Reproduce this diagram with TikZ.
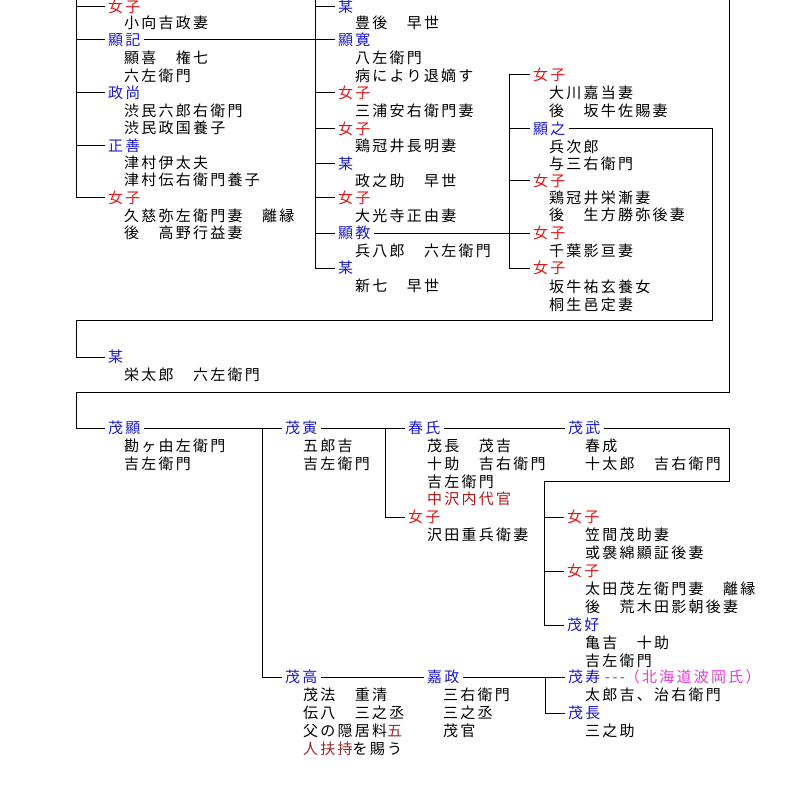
\documentclass[tikz,border=0pt]{standalone}
\usepackage{fontspec}
\newfontfamily\jp{Noto Sans CJK JP}[LetterSpace=15]
\newcommand\jpf{\jp\fontsize{15pt}{18pt}\selectfont}
\definecolor{namec}{RGB}{25,25,200}
\definecolor{femc}{RGB}{220,25,25}
\definecolor{darkredc}{RGB}{175,25,25}
\definecolor{brownc}{RGB}{155,40,40}
\definecolor{magc}{RGB}{225,60,215}
\definecolor{dashc}{RGB}{90,90,90}
\tikzset{
  lab/.style={anchor=west, inner xsep=3pt, inner ysep=1pt, font=\jpf, text=namec},
  fem/.style={lab, text=femc},
  sub/.style={anchor=west, inner sep=0pt, font=\jpf, text=black},
  link/.style={draw=black, line width=1pt}
}
\begin{document}
\begin{tikzpicture}[x=1pt,y=-1pt]
\clip (0,0) rectangle (794,802);
\fill[white] (0,0) rectangle (794,802);
% named corner coordinates
\coordinate (ltop) at (76,0);
\coordinate (mtop) at (315,0);
\coordinate (rx) at (509,0);
\coordinate (k1) at (712,320);
\coordinate (otop) at (729,0);
\coordinate (o2) at (729,392);
\coordinate (v1) at (262,428);
\coordinate (v2) at (385,428);
\coordinate (k2) at (729,481);
\coordinate (v3x) at (544,0);
\coordinate (v4) at (545,677);

% ---- left column
\node[fem] (L1) at (105,7) {女子};
\node[sub] (l1a) at (124,23) {小向吉政妻};
\node[lab] (L2) at (105,40) {顯記};
\node[sub] (l2a) at (124,58) {顯喜　権七};
\node[sub] (l2b) at (124,76) {六左衛門};
\node[lab] (L3) at (105,93) {政尚};
\node[sub] (l3a) at (124,111) {渋民六郎右衛門};
\node[sub] (l3b) at (124,128) {渋民政国養子};
\node[lab] (L4) at (105,146) {正善};
\node[sub] (l4a) at (124,163) {津村伊太夫};
\node[sub] (l4b) at (124,180) {津村伝右衛門養子};
\node[fem] (L5) at (105,198) {女子};
\node[sub] (l5a) at (124,216) {久慈弥左衛門妻　離縁};
\node[sub] (l5b) at (124,233) {後　高野行益妻};

% ---- middle column
\node[lab] (M1) at (335,7) {某};
\node[sub] (m1a) at (355,23) {豊後　早世};
\node[lab] (M2) at (335,40) {顯寛};
\node[sub] (m2a) at (355,58) {八左衛門};
\node[sub] (m2b) at (355,76) {病により退嫡す};
\node[fem] (M3) at (335,93) {女子};
\node[sub] (m3a) at (355,111) {三浦安右衛門妻};
\node[fem] (M4) at (335,129) {女子};
\node[sub] (m4a) at (355,146) {鶏冠井長明妻};
\node[lab] (M5) at (335,164) {某};
\node[sub] (m5a) at (355,181) {政之助　早世};
\node[fem] (M6) at (335,198) {女子};
\node[sub] (m6a) at (355,216) {大光寺正由妻};
\node[lab] (M7) at (335,233) {顯教};
\node[sub] (m7a) at (355,251) {兵八郎　六左衛門};
\node[lab] (M8) at (335,268) {某};
\node[sub] (m8a) at (355,286) {新七　早世};

% ---- right column
\node[fem] (R1) at (530,75) {女子};
\node[sub] (r1a) at (549,93) {大川嘉当妻};
\node[sub] (r1b) at (549,111) {後　坂牛佐賜妻};
\node[lab] (R2) at (530,129) {顯之};
\node[sub] (r2a) at (549,147) {兵次郎};
\node[sub] (r2b) at (549,164) {与三右衛門};
\node[fem] (R3) at (530,181) {女子};
\node[sub] (r3a) at (549,198) {鶏冠井栄漸妻};
\node[sub] (r3b) at (549,215) {後　生方勝弥後妻};
\node[fem] (R4) at (530,233) {女子};
\node[sub] (r4a) at (549,251) {千葉影亘妻};
\node[fem] (R5) at (530,268) {女子};
\node[sub] (r5a) at (549,287) {坂牛祐玄養女};
\node[sub] (r5b) at (549,305) {桐生邑定妻};

% ---- 栄太郎
\node[lab] (S1) at (105,357) {某};
\node[sub] (s1a) at (124,375) {栄太郎　六左衛門};

% ---- bottom part
\node[lab] (B1) at (105,428) {茂顯};
\node[sub] (b1a) at (124,446) {勘ヶ由左衛門};
\node[sub] (b1b) at (124,464) {吉左衛門};
\node[lab] (B2) at (282,428) {茂寅};
\node[sub] (b2a) at (303,446) {五郎吉};
\node[sub] (b2b) at (303,464) {吉左衛門};
\node[lab] (B3) at (405,428) {春氏};
\node[sub] (b3a) at (427,446) {茂長　茂吉};
\node[sub] (b3b) at (427,464) {十助　吉右衛門};
\node[sub] (b3c) at (427,482) {吉左衛門};
\node[sub, text=darkredc] (b3d) at (427,499) {中沢内代官};
\node[fem] (B4) at (405,517) {女子};
\node[sub] (b4a) at (427,535) {沢田重兵衛妻};
\node[lab] (B5) at (565,428) {茂武};
\node[sub] (b5a) at (585,446) {春成};
\node[sub] (b5b) at (585,464) {十太郎　吉右衛門};
\node[fem] (C1) at (564,517) {女子};
\node[sub] (c1a) at (585,535) {笠間茂助妻};
\node[sub] (c1b) at (585,553) {或袰綿顯証後妻};
\node[fem] (C2) at (564,571) {女子};
\node[sub] (c2a) at (585,589) {太田茂左衛門妻　離縁};
\node[sub] (c2b) at (585,607) {後　荒木田影朝後妻};
\node[lab] (C3) at (564,625) {茂好};
\node[sub] (c3a) at (585,643) {亀吉　十助};
\node[sub] (c3b) at (585,661) {吉左衛門};
\node[lab] (B7) at (282,677) {茂高};
\node[sub] (b7a) at (303,695) {茂法　重清};
\node[sub] (b7b) at (303,713) {伝八　三之丞};
\node[sub] (b7c) at (303,731) {父の隠居料{\color{brownc}五}};
\node[sub] (b7d) at (303,749) {{\color{brownc}人扶持}を賜う};
\node[lab] (B8) at (424,677) {嘉政};
\node[sub] (b8a) at (443,695) {三右衛門};
\node[sub] (b8b) at (443,713) {三之丞};
\node[sub] (b8c) at (443,731) {茂官};
\node[lab] (B9) at (565,677) {茂寿};
\node[sub, anchor=west] (note) at ([xshift=1pt]B9.east) {{\color{dashc}-{}-{}-}{\color{magc}（北海道波岡氏）}};
\node[sub] (b9a) at (585,695) {太郎吉、治右衛門};
\node[lab] (B10) at (565,713) {茂長};
\node[sub] (b10a) at (585,731) {三之助};

% ---- connectors
\draw[link] (ltop) |- (L5.west);
\foreach \n in {L1,L2,L3,L4} \draw[link] (\n.west) -- (\n.west -| ltop);
\draw[link] (L2.east) -- (L2.east -| mtop);
\draw[link] (mtop) |- (M8.west);
\foreach \n in {M1,M2,M3,M4,M5,M6,M7} \draw[link] (\n.west) -- (\n.west -| mtop);
\draw[link] (M7.east) -- (M7.east -| rx);
\draw[link] (R1.west) -| (R5.west -| rx) -- (R5.west);
\foreach \n in {R2,R3,R4} \draw[link] (\n.west) -- (\n.west -| rx);
\draw[link] (R2.east) -| (k1) -- (k1 -| ltop) |- (S1.west);
\draw[link] (otop) -- (o2) -- (o2 -| ltop) |- (B1.west);
\draw[link] (B1.east) -- (B2.west);
\draw[link] (v1) |- (B7.west);
\draw[link] (B2.east) -- (B3.west);
\draw[link] (v2) |- (B4.west);
\draw[link] (B3.east) -- (B5.west);
\draw[link] (B5.east) -| (k2) -- (k2 -| v3x) |- (C3.west);
\foreach \n in {C1,C2} \draw[link] (\n.west) -- (\n.west -| v3x);
\draw[link] (B7.east) -- (B8.west);
\draw[link] (B8.east) -- (B9.west);
\draw[link] (v4) |- (B10.west);
\end{tikzpicture}
\end{document}
